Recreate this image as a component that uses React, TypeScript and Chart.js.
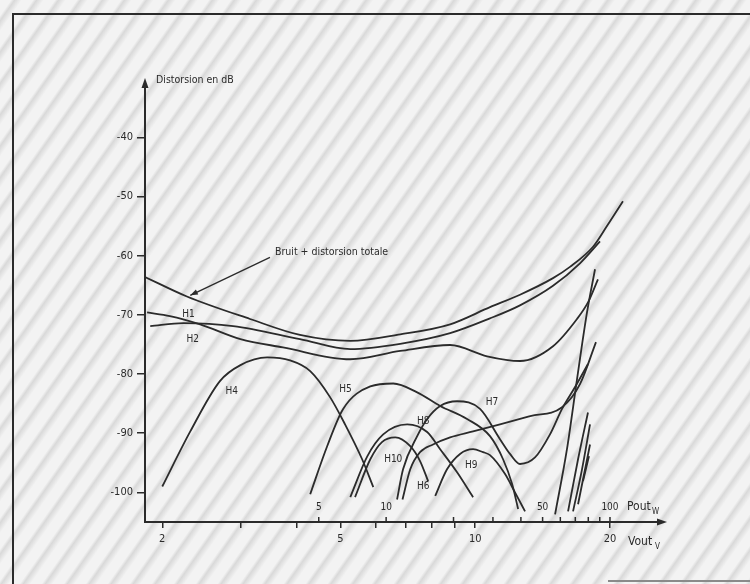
import React, { useEffect, useRef } from 'react';
import { Chart, registerables } from 'chart.js';

Chart.register(...registerables);

// ---- axes ----
const vTicks = [2, 3, 4, 5, 6, 7, 8, 9, 10, 20];
const vLabels = [2, 5, 10, 20];
const dbTicks = [-100, -90, -80, -70, -60, -50, -40];
const poutTicks = [5, 10, 20, 30, 40, 50, 60, 70, 80, 90, 100];
const poutLabels = [5, 10, 50, 100];

// ---- curves (Vout in V, distortion in dB) ----
const totalV = [1.83, 2.27, 3.14, 4.06, 5.26, 6.8, 8.79, 10.79, 12.59, 14.92, 16.28, 18.33, 19.69, 21.38];
const totalDb = [-63.6, -66.9, -70.7, -73.4, -74.4, -73.3, -71.6, -68.7, -66.6, -63.8, -61.9, -58.5, -55.0, -50.8];

const h1V = [1.88, 2.23, 2.88, 4.06, 5.26, 6.8, 8.79, 10.79, 12.59, 14.92, 17.14, 19.0];
const h1Db = [-71.9, -71.4, -71.9, -74.1, -75.8, -74.9, -73.1, -70.6, -68.4, -65.1, -61.3, -57.6];

const h2V = [1.85, 2.08, 2.43, 2.99, 3.72, 5.26, 6.8, 8.79, 10.63, 12.59, 14.92, 16.88, 17.86, 18.8];
const h2Db = [-69.6, -70.2, -71.6, -74.1, -75.5, -77.5, -76.1, -75.1, -77.0, -77.8, -75.3, -70.7, -67.9, -64.0];

const h3V = [15.08, 16.03, 16.88, 17.77, 18.52];
const h3Db = [-103.7, -92.7, -80.9, -69.6, -62.3];

const h4V = [2.0, 2.31, 2.69, 2.99, 3.43, 3.86, 4.28, 4.74, 5.12, 5.59, 5.92];
const h4Db = [-99.0, -89.7, -81.2, -78.5, -77.2, -77.7, -79.5, -83.9, -88.5, -94.4, -99.1];

const h5V = [4.28, 4.67, 5.07, 5.83, 6.56, 7.42, 8.35, 9.59, 10.79, 11.54, 12.09, 12.47];
const h5Db = [-100.3, -92.2, -85.9, -82.1, -81.6, -83.1, -85.4, -87.6, -90.5, -94.4, -98.6, -102.8];

const h6V = [6.88, 7.16, 7.53, 8.05, 8.79, 9.89, 11.36, 13.27, 15.63, 17.14, 18.61];
const h6Db = [-101.2, -96.1, -93.2, -91.9, -90.7, -89.7, -88.5, -87.1, -85.6, -81.7, -74.6];

const h7V = [6.69, 6.9, 7.42, 7.81, 8.35, 9.11, 10.25, 11.36, 11.96, 12.59, 13.6, 14.69, 15.63, 16.71, 17.86];
const h7Db = [-101.2, -96.1, -90.5, -87.6, -85.4, -84.6, -85.9, -91.0, -93.5, -95.2, -94.1, -90.2, -85.9, -82.2, -78.3];

const h8V = [5.26, 5.74, 6.23, 7.05, 7.81, 8.35, 9.11, 9.89];
const h8Db = [-100.8, -93.9, -90.2, -88.5, -89.8, -92.7, -96.6, -100.8];

const h9V = [8.14, 8.65, 9.25, 9.89, 10.41, 10.79, 11.66, 12.27, 12.92];
const h9Db = [-100.6, -96.1, -93.5, -92.7, -93.2, -93.7, -96.9, -100.0, -103.2];

const h10V = [5.39, 5.83, 6.19, 6.63, 7.16, 7.53, 7.85];
const h10Db = [-100.8, -94.4, -91.5, -90.7, -92.2, -94.7, -98.1];

// steep rises near clipping
const clipAV = [16.12, 16.97, 17.86];
const clipADb = [-103.2, -94.4, -86.5];
const clipBV = [16.54, 17.32, 18.05];
const clipBDb = [-103.2, -96.1, -88.5];
const clipCV = [16.97, 18.05];
const clipCDb = [-102.0, -91.9];
const clipDV = [17.41, 17.95];
const clipDDb = [-98.1, -93.9];

// curve labels (anchored in data units)
const curveLabels = [
  { text: 'H1', v: 2.29, db: -69.9 },
  { text: 'H2', v: 2.34, db: -74.1 },
  { text: 'H4', v: 2.86, db: -82.9 },
  { text: 'H5', v: 5.13, db: -82.6 },
  { text: 'H7', v: 10.9, db: -84.8 },
  { text: 'H8', v: 7.65, db: -88.0 },
  { text: 'H10', v: 6.56, db: -94.4 },
  { text: 'H6', v: 7.65, db: -99.0 },
  { text: 'H9', v: 9.8, db: -95.4 },
];
const noteText = 'Bruit + distorsion totale';
const noteAt = { v: 3.57, db: -59.4 };
const noteTail = { v: 3.48, db: -60.3 };
const noteTip = { v: 2.31, db: -66.7 };

const INK = '#2b2b2b';
const FONT = '"Liberation Sans Narrow", "DejaVu Sans Condensed", "Liberation Sans", sans-serif';

const zip = (xs: number[], ys: number[]) => xs.map((x, i) => ({ x, y: ys[i] }));

const series: [string, number[], number[]][] = [
  ['Bruit + distorsion totale', totalV, totalDb],
  ['H1', h1V, h1Db],
  ['H2', h2V, h2Db],
  ['H3', h3V, h3Db],
  ['H4', h4V, h4Db],
  ['H5', h5V, h5Db],
  ['H6', h6V, h6Db],
  ['H7', h7V, h7Db],
  ['H8', h8V, h8Db],
  ['H9', h9V, h9Db],
  ['H10', h10V, h10Db],
  ['clip A', clipAV, clipADb],
  ['clip B', clipBV, clipBDb],
  ['clip C', clipCV, clipCDb],
  ['clip D', clipDV, clipDDb],
];

const decor = {
  id: 'decor',
  afterDraw(chart: any) {
    const { ctx, chartArea: a, scales } = chart;
    const x = scales.x, y = scales.y, xp = scales.xp;
    ctx.save();
    ctx.fillStyle = INK;
    ctx.strokeStyle = INK;
    // axis arrows
    ctx.beginPath();
    ctx.moveTo(a.left, a.top - 6);
    ctx.lineTo(a.left - 3.5, a.top + 4);
    ctx.lineTo(a.left + 3.5, a.top + 4);
    ctx.closePath();
    ctx.fill();
    ctx.beginPath();
    ctx.moveTo(a.right + 6, a.bottom);
    ctx.lineTo(a.right - 4, a.bottom - 3.5);
    ctx.lineTo(a.right - 4, a.bottom + 3.5);
    ctx.closePath();
    ctx.fill();
    // Pout ticks above the axis
    ctx.lineWidth = 1.5;
    poutTicks.forEach((p) => {
      const px = xp.getPixelForValue(p);
      ctx.beginPath();
      ctx.moveTo(px, a.bottom);
      ctx.lineTo(px, a.bottom - 5);
      ctx.stroke();
    });
    ctx.font = `10px ${FONT}`;
    ctx.textAlign = 'center';
    ctx.textBaseline = 'alphabetic';
    poutLabels.forEach((p) => ctx.fillText(String(p), xp.getPixelForValue(p), a.bottom - 12));
    // axis titles
    ctx.textAlign = 'left';
    ctx.font = `12px ${FONT}`;
    ctx.fillText('Pout', a.right - 34, a.bottom - 12);
    ctx.fillText('Vout', a.right - 33, a.bottom + 23);
    ctx.font = `8px ${FONT}`;
    ctx.fillText('W', a.right - 9, a.bottom - 8);
    ctx.fillText('V', a.right - 6, a.bottom + 27);
    ctx.font = `10.5px ${FONT}`;
    ctx.fillText('Distorsion en dB', a.left + 11, a.top - 1);
    // annotation with arrow
    const tx = x.getPixelForValue(noteAt.v), ty = y.getPixelForValue(noteAt.db);
    ctx.textBaseline = 'middle';
    ctx.fillText(noteText, tx, ty);
    const x0 = x.getPixelForValue(noteTail.v), y0 = y.getPixelForValue(noteTail.db);
    const x1 = x.getPixelForValue(noteTip.v), y1 = y.getPixelForValue(noteTip.db);
    ctx.lineWidth = 1.3;
    ctx.beginPath();
    ctx.moveTo(x0, y0);
    ctx.lineTo(x1, y1);
    ctx.stroke();
    const ang = Math.atan2(y1 - y0, x1 - x0);
    ctx.beginPath();
    ctx.moveTo(x1, y1);
    ctx.lineTo(x1 - 8 * Math.cos(ang - 0.35), y1 - 8 * Math.sin(ang - 0.35));
    ctx.lineTo(x1 - 8 * Math.cos(ang + 0.35), y1 - 8 * Math.sin(ang + 0.35));
    ctx.closePath();
    ctx.fill();
    // curve labels
    ctx.textAlign = 'center';
    ctx.font = `10px ${FONT}`;
    curveLabels.forEach((l) => ctx.fillText(l.text, x.getPixelForValue(l.v), y.getPixelForValue(l.db)));
    ctx.restore();
  },
};

export default function App() {
  const ref = useRef<HTMLCanvasElement | null>(null);

  useEffect(() => {
    const canvas = ref.current;
    if (!canvas) return;
    const xMin = 1.83, xMax = 26;
    const chart = new Chart(canvas, {
      type: 'line',
      data: {
        datasets: series.map(([label, xs, ys]) => ({
          label,
          data: zip(xs, ys),
          xAxisID: 'x',
          yAxisID: 'y',
          borderColor: INK,
          borderWidth: 1.8,
          pointRadius: 0,
          fill: false,
          tension: 0.4,
          cubicInterpolationMode: 'monotone',
        })),
      },
      options: {
        responsive: false,
        animation: false,
        devicePixelRatio: 1,
        layout: { padding: { left: 100, right: 89, top: 84, bottom: 22 } },
        plugins: { legend: { display: false }, tooltip: { enabled: false } },
        events: [],
        scales: {
          x: {
            type: 'logarithmic',
            position: 'bottom',
            min: xMin,
            max: xMax,
            afterBuildTicks: (s: any) => {
              s.ticks = vTicks.map((v) => ({ value: v }));
            },
            afterFit: (s: any) => {
              s.height = 40;
            },
            ticks: {
              autoSkip: false,
              maxRotation: 0,
              padding: 5,
              color: INK,
              font: { size: 11, family: FONT },
              callback: (v: any) => (vLabels.includes(Number(v)) ? String(v) : ''),
            },
            grid: { display: true, drawOnChartArea: false, drawTicks: true, tickLength: 6, color: INK, lineWidth: 1.5 },
            border: { display: true, color: INK, width: 2 },
          },
          xp: {
            type: 'logarithmic',
            axis: 'x',
            position: 'bottom',
            display: false,
            min: (xMin * xMin) / 4,
            max: (xMax * xMax) / 4,
          },
          y: {
            type: 'linear',
            min: -105,
            max: -31,
            afterBuildTicks: (s: any) => {
              s.ticks = dbTicks.map((v) => ({ value: v }));
            },
            afterFit: (s: any) => {
              s.width = 45;
            },
            ticks: {
              padding: 4,
              color: INK,
              font: { size: 11, family: FONT },
              callback: (v: any) => String(v),
            },
            grid: { display: true, drawOnChartArea: false, drawTicks: true, tickLength: 8, color: INK, lineWidth: 1.5 },
            border: { display: true, color: INK, width: 2 },
          },
        },
      } as any,
      plugins: [decor],
    } as any);
    return () => chart.destroy();
  }, []);

  return (
    <div
      style={{
        position: 'fixed',
        left: 0,
        top: 0,
        width: 750,
        height: 584,
        overflow: 'hidden',
        background:
          'repeating-linear-gradient(125deg, #f3f3f3 0px, #f3f3f3 9px, #d9d9d9 12px, #e6e6e6 15px, #f3f3f3 18px)',
      }}
    >
      <div
        style={{
          position: 'absolute',
          left: 12,
          top: 13,
          width: 760,
          height: 600,
          borderTop: '2px solid #2b2b2b',
          borderLeft: '2px solid #2b2b2b',
        }}
      />
      <div style={{ position: 'absolute', left: 608, top: 580, width: 142, height: 2, background: '#8a8a8a' }} />
      <canvas ref={ref} width={750} height={584} style={{ position: 'absolute', left: 0, top: 0 }} />
    </div>
  );
}
